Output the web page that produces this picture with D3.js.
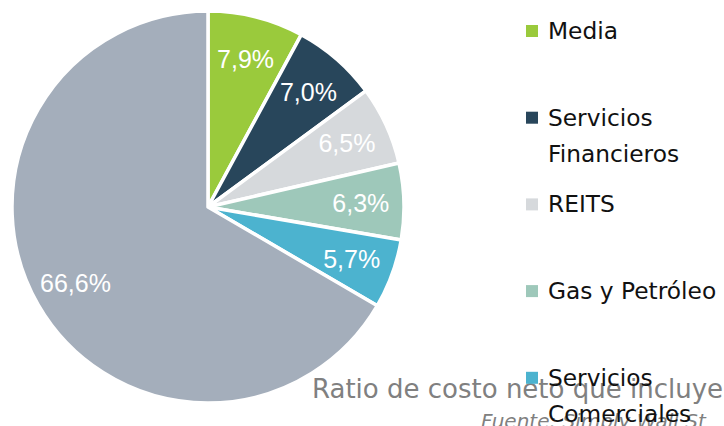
<!DOCTYPE html>
<html>
<head>
<meta charset="utf-8">
<script src="https://cdn.jsdelivr.net/npm/d3@7"></script>
<style>
  html, body { margin: 0; padding: 0; background: #ffffff; overflow: hidden; }
  svg { display: block; }
</style>
</head>
<body>
<svg id="chart" width="724" height="426"></svg>
<script>
// Sector weights (%), drawn clockwise from 12 o'clock
const sectors = ["Media", "Servicios Financieros", "REITS", "Gas y Petróleo", "Servicios Comerciales", "Otros"];
const weights = [7.9, 7.0, 6.5, 6.3, 5.7, 66.6];
const colors = ["#9aca3c", "#28465b", "#d6d9dc", "#9ec8ba", "#4cb3cf", "#a4aebb"];
// Legend lines (multi-line entries wrap onto a second line)
const legendLines = [["Media"], ["Servicios", "Financieros"], ["REITS"], ["Gas y Petróleo"], ["Servicios", "Comerciales"]];
const caption = "Ratio de costo neto que incluye";
const source = "Fuente: Simply Wall St";

const svg = d3.select("#chart");
const cx = 208, cy = 207, R = 196;
const textFont = "'DejaVu Sans', 'Noto Sans', sans-serif";

const fmt = v => d3.format(".1f")(v).replace(".", ",") + "%";

const pie = d3.pie().sort(null).value(d => d)(weights);
const arc = d3.arc().innerRadius(0).outerRadius(R);
const labelArc = d3.arc().innerRadius(R * 0.78).outerRadius(R * 0.78);

const g = svg.append("g").attr("transform", `translate(${cx},${cy})`);

g.selectAll("path.slice")
  .data(pie)
  .join("path")
  .attr("class", "slice")
  .attr("d", arc)
  .attr("fill", (d, i) => colors[i])
  .attr("stroke", "#ffffff")
  .attr("stroke-width", 3.5)
  .attr("stroke-linejoin", "round");

g.selectAll("text.val")
  .data(pie)
  .join("text")
  .attr("class", "val")
  .attr("transform", d => `translate(${labelArc.centroid(d)})`)
  .attr("text-anchor", "middle")
  .attr("dy", "0.36em")
  .attr("font-family", "'Liberation Sans', Arial, sans-serif")
  .attr("font-size", 25)
  .attr("fill", "#ffffff")
  .text(d => fmt(d.value));

// Caption beneath the chart (runs past the right edge)
svg.append("text")
  .attr("x", 312).attr("y", 398)
  .attr("font-family", textFont)
  .attr("font-size", 26)
  .attr("fill", "#808080")
  .text(caption);

svg.append("text")
  .attr("x", 481).attr("y", 428)
  .attr("font-family", textFont)
  .attr("font-style", "italic")
  .attr("font-size", 20)
  .attr("fill", "#808080")
  .text(source);

// Legend
const legendY = d3.scaleLinear().domain([0, 1]).range([39, 125.7]);
const legend = svg.append("g");
legendLines.forEach((lines, i) => {
  const y = legendY(i);
  legend.append("rect")
    .attr("x", 526).attr("y", y - 14)
    .attr("width", 12).attr("height", 12)
    .attr("fill", colors[i]);
  const t = legend.append("text")
    .attr("x", 548).attr("y", y)
    .attr("font-family", textFont)
    .attr("font-size", 23.3)
    .attr("fill", "#111111");
  lines.forEach((ln, j) => {
    t.append("tspan").attr("x", 548).attr("y", y + j * 36).text(ln);
  });
});
</script>
</body>
</html>
